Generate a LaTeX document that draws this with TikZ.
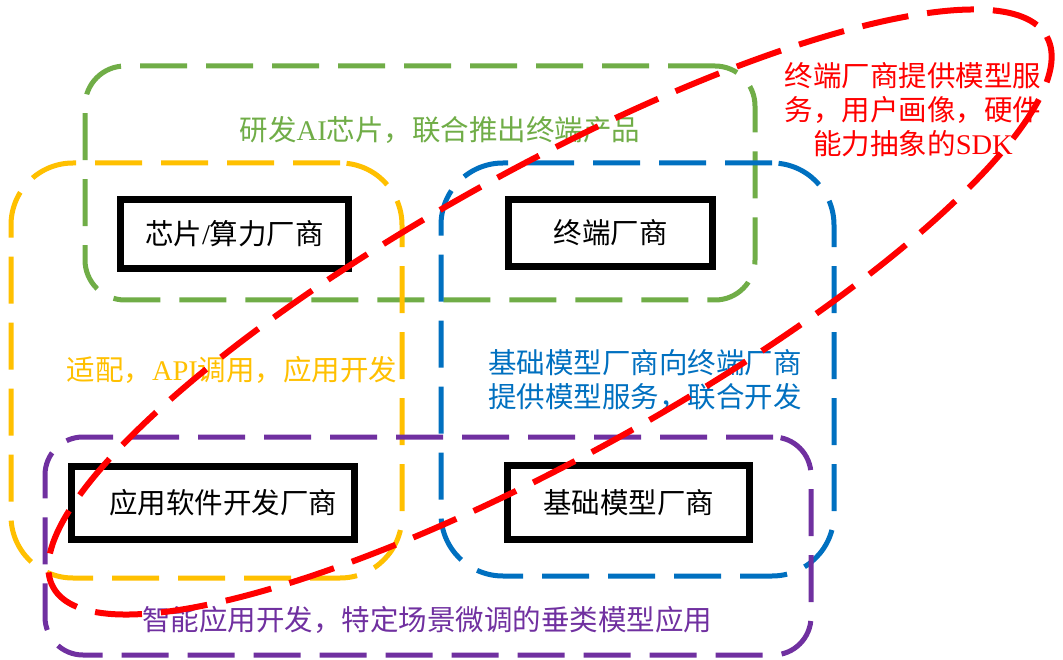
\documentclass[tikz,border=0pt]{standalone}
\usepackage{fontspec}
\setmainfont{Noto Sans CJK SC}
\newfontfamily\lat{Liberation Serif}
\definecolor{cgreen}{HTML}{70AD47}
\definecolor{cyellow}{HTML}{FFC000}
\definecolor{cblue}{HTML}{0070C0}
\definecolor{cpurple}{HTML}{7030A0}
\definecolor{cred}{HTML}{FF0000}
\begin{document}
\begin{tikzpicture}[x=1pt,y=-1pt,
  grp/.style={draw, line width=5pt, dash pattern=on 47pt off 19pt, inner sep=0pt, outer sep=0pt},
  vbox/.style={draw=black, fill=white, line width=7pt, inner sep=0pt, font=\fontsize{28.5}{34}\selectfont},
  lbl/.style={font=\fontsize{28.5}{34}\selectfont, align=center, inner sep=0pt}]
\useasboundingbox (0,0) rectangle (1063,660);
\fill[white] (0,0) rectangle (1063,660);
% groups
\node[grp, draw=cgreen, rounded corners=40pt, minimum width=670pt, minimum height=234pt] (gG) at (420,183) {};
\node[grp, draw=cyellow, rounded corners=62pt, minimum width=391pt, minimum height=415pt] (gY) at (206.5,370.5) {};
\node[grp, draw=cblue, rounded corners=62pt, minimum width=393pt, minimum height=413pt] (gB) at (637.5,369.5) {};
\node[grp, draw=cpurple, rounded corners=38pt, minimum width=766pt, minimum height=218pt] (gP) at (428,546) {};
% group labels
\node[lbl, text=cgreen] (tG) at (440,130) {研发{\lat AI}芯片，联合推出终端产品};
\node[lbl, text=cyellow] (tY) at (232,370) {适配，{\lat API}调用，应用开发};
\node[lbl, text=cblue] (tB) at (645,380) {基础模型厂商向终端厂商\\提供模型服务，联合开发};
\node[lbl, text=cpurple] (tP) at (427,620) {智能应用开发，特定场景微调的垂类模型应用};
% vendor boxes
\node[vbox, minimum width=228pt, minimum height=69pt] (chip) at (234.5,234) {芯片{\lat /}算力厂商};
\node[vbox, minimum width=204pt, minimum height=67pt] (term) at (610.5,233) {终端厂商};
\node[vbox, minimum width=283pt, minimum height=73pt] (app) at (213,503) {\hspace*{20pt}应用软件开发厂商};
\node[vbox, minimum width=242pt, minimum height=74pt] (base) at (628.5,502.5) {基础模型厂商};
% red ellipse
\coordinate (ec) at (550,312);
\draw[cred, line width=6pt, dash pattern=on 47pt off 19pt, rotate around={29:(ec)}] (ec) ellipse (568 and 143);
\node[lbl, text=cred] (tR) at (913,110) {终端厂商提供模型服\\务，用户画像，硬件\\能力抽象的{\lat SDK}};
\end{tikzpicture}
\end{document}
